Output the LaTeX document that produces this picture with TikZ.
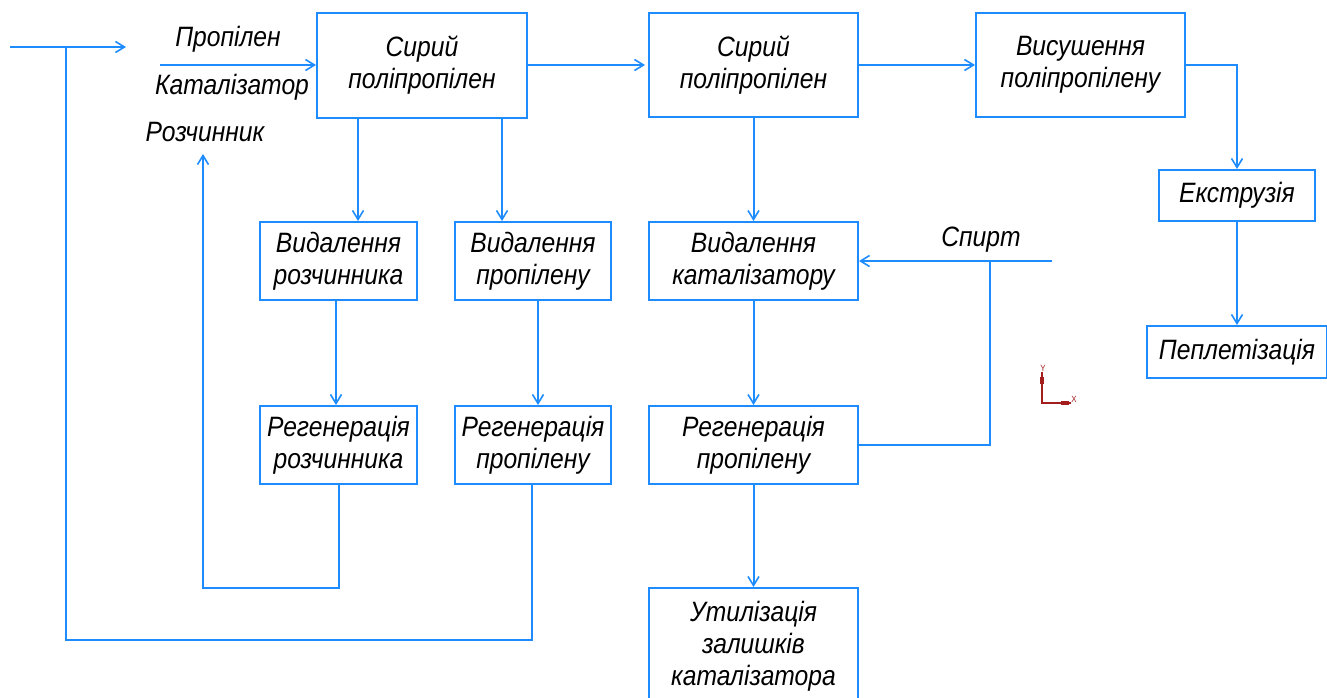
\documentclass[tikz,border=0pt]{standalone}
\usepackage{fontspec}
\setmainfont{Liberation Sans}[FakeStretch=0.88]
\usetikzlibrary{arrows.meta}
\definecolor{flow}{RGB}{30,140,255}
\definecolor{ucs}{RGB}{165,30,30}
\tikzset{
  line/.style={draw=flow, line width=2pt},
  arr/.style={line, -{Straight Barb[length=9pt,width=11pt,line width=1.6pt]}},
  box/.style={line, inner sep=0pt, align=center, text=black},
  lbl/.style={inner sep=0pt, text=black},
}
\begin{document}
\begin{tikzpicture}[x=1pt, y=-1pt,
  font=\fontsize{28}{32}\selectfont\itshape]
\useasboundingbox (0,0) rectangle (1327,697);

% process boxes
\node[box, minimum width=210pt, minimum height=105pt] (b1) at (422,65) {Сирий\\поліпропілен};
\node[box, minimum width=209pt, minimum height=104pt] (b2) at (753.5,65) {Сирий\\поліпропілен};
\node[box, minimum width=209pt, minimum height=104pt] (b3) at (1080.5,65) {Висушення\\поліпропілену};
\node[box, minimum width=156pt, minimum height=51pt] (b4) at (1237,195.5) {Екструзія};
\node[box, minimum width=180pt, minimum height=52pt] (b5) at (1237,352) {Пеплетізація};
\node[box, minimum width=157pt, minimum height=78pt] (b6) at (338.5,261) {Видалення\\розчинника};
\node[box, minimum width=156pt, minimum height=78pt] (b7) at (533,261) {Видалення\\пропілену};
\node[box, minimum width=209pt, minimum height=78pt] (b8) at (753.5,261) {Видалення\\каталізатору};
\node[box, minimum width=157pt, minimum height=78pt] (b9) at (338.5,445) {Регенерація\\розчинника};
\node[box, minimum width=156pt, minimum height=78pt] (b10) at (533,445) {Регенерація\\пропілену};
\node[box, minimum width=209pt, minimum height=78pt] (b11) at (753.5,445) {Регенерація\\пропілену};
\node[box, minimum width=209pt, minimum height=116pt] (b12) at (753.5,646) {Утилізація\\залишків\\каталізатора};

% stream labels
\node[lbl] (lprop) at (228,39) {Пропілен};
\node[lbl] (lcat) at (232,87) {Каталізатор};
\node[lbl] (lsolv) at (205,132) {Розчинник};
\node[lbl] (lsp) at (981,240) {Спирт};

% free ends and junctions
\coordinate (feedA) at (10,47);
\coordinate (feedB) at (126,47);
\coordinate (jn) at (66,47);
\coordinate (loopcorner) at (66,640);
\coordinate (inA) at (160,65);
\coordinate (rzin) at (203,154);
\coordinate (spA) at (1052,261);
\coordinate (spJ) at (990,261);

% main line
\draw[arr] (feedA) -- (feedB);
\draw[arr] (inA) -- (b1.west);
\draw[arr] (b1.east) -- ([xshift=-3pt]b2.west);
\draw[arr] (b2.east) -- (b3.west);
\draw[arr] (b3.east) -| (b4.north);
\draw[arr] (b4.south) -- (b5.north);

% separation branches
\draw[arr] ([xshift=19.5pt]b6.north |- b1.south) -- ([xshift=19.5pt]b6.north);
\draw[arr] ([xshift=-31pt]b7.north |- b1.south) -- ([xshift=-31pt]b7.north);
\draw[arr] (b2.south) -- (b8.north);
\draw[arr] ([xshift=-2.5pt]b6.south) -- ([xshift=-2.5pt]b9.north);
\draw[arr] ([xshift=5pt]b7.south) -- ([xshift=5pt]b10.north);
\draw[arr] (b8.south) -- (b11.north);
\draw[arr] (b11.south) -- (b12.north);

% recycle loops
\draw[arr] ([xshift=0.5pt]b9.south) -- ++(0,103) -| (rzin);
\draw[line] ([xshift=-1pt]b10.south) |- (loopcorner) -- (jn);

% alcohol feed and return
\draw[arr] (spA) -- (b8.east);
\draw[line] (b11.east) -| (spJ);

% coordinate system icon
\begin{scope}[draw=ucs, line width=1.2pt]
  \coordinate (uo) at (1042,403);
  \draw (1042,372) -- (uo) -- (1071,403);
  \draw (1040.5,378) rectangle (1043.5,383);
  \draw (1062,401.5) rectangle (1068,404.5);
  \node[text=ucs, font=\fontsize{9}{9}\selectfont, inner sep=0pt] (uy) at (1043,368) {Y};
  \node[text=ucs, font=\fontsize{9}{9}\selectfont, inner sep=0pt] (ux) at (1074,399) {X};
\end{scope}
\end{tikzpicture}
\end{document}
